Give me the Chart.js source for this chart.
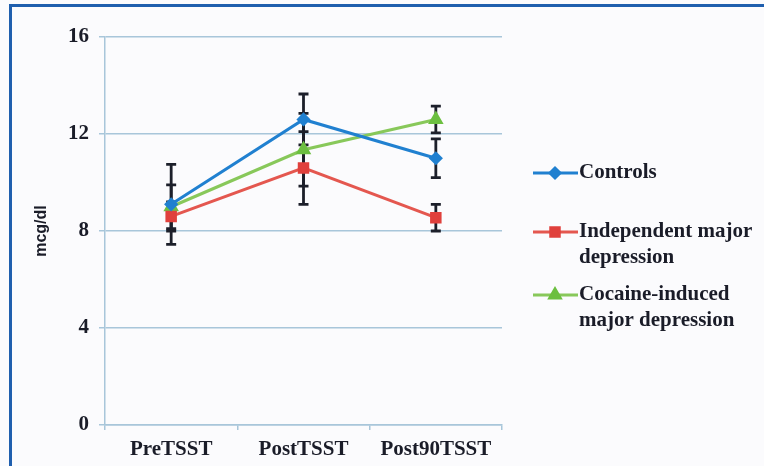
<!DOCTYPE html>
<html lang="en">
<head>
  <meta charset="UTF-8" />
  <title>Cortisol by TSST phase</title>
  <script src="https://cdn.jsdelivr.net/npm/chart.js"></script>
  <style>
    html, body {
      margin: 0;
      padding: 0;
      background: #fbfbfd;
    }
    #frame {
      position: absolute;
      left: 9px;
      top: 4px;
      width: 760px;
      height: 470px;
      border-top: 3px solid #1f5fae;
      border-left: 3px solid #1f5fae;
    }
    #wrap {
      position: absolute;
      left: 0;
      top: 0;
      width: 764px;
      height: 466px;
    }
  </style>
</head>
<body>
  <div id="frame"></div>
  <div id="wrap"><canvas id="chart" width="764" height="466"></canvas></div>

  <script>
    const categories = ["PreTSST", "PostTSST", "Post90TSST"];
    const seriesNames = ["Controls", ["Independent major", "depression"], ["Cocaine-induced", "major depression"]];

    const controls = [9.1, 12.6, 11.0];
    const independentMD = [8.6, 10.6, 8.55];
    const cocaineMD = [9.0, 11.35, 12.6];

    const controlsErr = [1.65, 1.05, 0.8];
    const independentErr = [0.6, 1.5, 0.55];
    const cocaineErr = [0.9, 1.5, 0.55];

    const yTicks = [0, 4, 8, 12, 16];

    const serif = "'Liberation Serif', 'Times New Roman', serif";
    const gridBlue = "#a8c6da";

    // vertical error bars, drawn under the lines and markers
    const errorBars = {
      id: "errorBars",
      beforeDatasetsDraw(chart) {
        const ctx = chart.ctx;
        const x = chart.scales.x, y = chart.scales.y;
        ctx.save();
        ctx.strokeStyle = "#1c1f2a";
        ctx.lineWidth = 2.8;
        chart.data.datasets.forEach(ds => {
          ds.data.forEach((v, i) => {
            const px = x.getPixelForValue(i);
            const top = y.getPixelForValue(v + ds.err[i]);
            const bot = y.getPixelForValue(v - ds.err[i]);
            ctx.beginPath();
            ctx.moveTo(px, top); ctx.lineTo(px, bot);
            ctx.moveTo(px - 5, top); ctx.lineTo(px + 5, top);
            ctx.moveTo(px - 5, bot); ctx.lineTo(px + 5, bot);
            ctx.stroke();
          });
        });
        ctx.restore();
      }
    };

    // legend on the right with wrapped labels
    const sideLegend = {
      id: "sideLegend",
      afterDraw(chart) {
        const ctx = chart.ctx;
        const rows = [173, 232, 295];
        ctx.save();
        chart.data.datasets.forEach((ds, i) => {
          const cy = rows[i];
          ctx.strokeStyle = ds.borderColor;
          ctx.lineWidth = 3;
          ctx.beginPath();
          ctx.moveTo(533, cy); ctx.lineTo(578, cy);
          ctx.stroke();
          ctx.fillStyle = ds.pointBackgroundColor;
          ctx.strokeStyle = ds.pointBorderColor;
          Chart.helpers.drawPoint(ctx, {
            pointStyle: ds.pointStyle,
            radius: ds.pointRadius,
            borderWidth: 1
          }, 555, cy);
          ctx.fillStyle = "#1a1c28";
          ctx.font = "bold 21px " + serif;
          ctx.textBaseline = "middle";
          const lines = Array.isArray(seriesNames[i]) ? seriesNames[i] : [seriesNames[i]];
          lines.forEach((t, k) => ctx.fillText(t, 579, cy + k * 26));
        });
        ctx.restore();
      }
    };

    new Chart(document.getElementById("chart"), {
      type: "line",
      data: {
        labels: categories,
        datasets: [
          {
            label: "Controls",
            data: controls,
            err: controlsErr,
            borderColor: "#2080d0",
            pointBackgroundColor: "#2080d0",
            pointBorderColor: "#2080d0",
            pointStyle: "rectRot",
            pointRadius: 5,
            borderWidth: 3
          },
          {
            label: "Independent major depression",
            data: independentMD,
            err: independentErr,
            borderColor: "#e4574f",
            pointBackgroundColor: "#e0403c",
            pointBorderColor: "#e0403c",
            pointStyle: "rect",
            pointRadius: 6,
            borderWidth: 3
          },
          {
            label: "Cocaine-induced major depression",
            data: cocaineMD,
            err: cocaineErr,
            borderColor: "#88c85a",
            pointBackgroundColor: "#6cbf40",
            pointBorderColor: "#6cbf40",
            pointStyle: "triangle",
            pointRadius: 6,
            borderWidth: 3
          }
        ]
      },
      options: {
        responsive: false,
        animation: false,
        layout: { padding: { left: 12, right: 262, top: 37, bottom: 0 } },
        plugins: {
          legend: { display: false },
          tooltip: { enabled: false }
        },
        scales: {
          x: {
            offset: true,
            afterFit(scale) { scale.height = 41; },
            grid: {
              offset: true,
              drawOnChartArea: false,
              drawTicks: true,
              tickLength: 5,
              color: gridBlue,
              lineWidth: 1.5
            },
            border: { color: gridBlue, width: 1.5 },
            ticks: {
              color: "#1a1c28",
              font: { family: serif, size: 21, weight: "bold" },
              padding: 7
            }
          },
          y: {
            min: 0,
            max: 16,
            afterFit(scale) { scale.width = 93; },
            afterBuildTicks(scale) { scale.ticks = yTicks.map(v => ({ value: v })); },
            grid: {
              color: gridBlue,
              lineWidth: 1.5,
              tickLength: 6
            },
            border: { color: gridBlue, width: 1.5 },
            ticks: {
              color: "#1a1c28",
              font: { family: serif, size: 21, weight: "bold" },
              padding: 10
            },
            title: {
              display: true,
              text: "mcg/dl",
              color: "#1a1c28",
              font: { family: "'Liberation Sans', Arial, sans-serif", size: 16, weight: "bold" },
              padding: { top: 20, bottom: 0 }
            }
          }
        }
      },
      plugins: [errorBars, sideLegend]
    });
  </script>
</body>
</html>
